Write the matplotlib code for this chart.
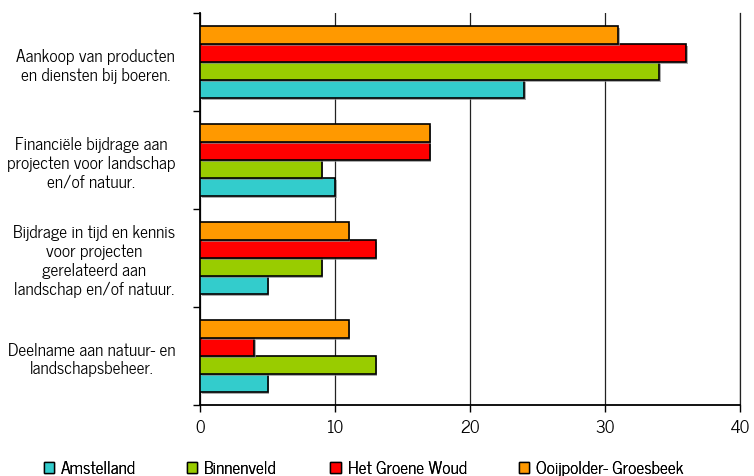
import numpy as np
import matplotlib.pyplot as plt
import matplotlib.patheffects as pe
from matplotlib.patches import Patch

plt.rcParams['font.family'] = ['News Cycle', 'Archivo Narrow', 'DejaVu Sans']

categories = ['Aankoop van producten\nen diensten bij boeren.',
              'Financiële bijdrage aan\nprojecten voor landschap\nen/of natuur.',
              'Bijdrage in tijd en kennis\nvoor projecten\ngerelateerd aan\nlandschap en/of natuur.',
              'Deelname aan natuur- en\nlandschapsbeheer.']
series = ['Amstelland', 'Binnenveld', 'Het Groene Woud', 'Ooijpolder- Groesbeek']
amstelland = [24, 10, 5, 5]
binnenveld = [34, 9, 9, 13]
groene_woud = [36, 17, 13, 4]
ooijpolder = [31, 17, 11, 11]
colors = ['#33CCCC', '#99CC00', '#FF0000', '#FF9900']

values = [amstelland, binnenveld, groene_woud, ooijpolder]

fig = plt.figure(figsize=(7.54, 4.77), dpi=100)
ax = fig.add_axes([0.2653, 0.1488, 0.7161, 0.8218])

y = np.arange(len(categories))[::-1].astype(float)
h = 0.184
shadow = [pe.SimplePatchShadow(offset=(1.2, -1.2), shadow_rgbFace='#888888', alpha=0.7), pe.Normal()]
for i, (vals, col) in enumerate(zip(values, colors)):
    bars = ax.barh(y + (i - 1.5) * h, vals, height=h, color=col,
                   edgecolor='black', linewidth=1.2, zorder=3)
    for b in bars:
        b.set_path_effects(shadow)

ax.set_xlim(0, 40)
ax.set_ylim(-0.5, 3.5)
ax.set_xticks([0, 10, 20, 30, 40])
ax.set_yticks([-0.5, 0.5, 1.5, 2.5, 3.5], minor=False)
ax.set_yticklabels([])
ax.set_yticks(y, minor=True)
ax.set_yticklabels(categories, minor=True, multialignment='center',
                   fontsize=12.5, linespacing=1.22)
ax.tick_params(axis='y', which='minor', length=0, pad=18)
ax.tick_params(axis='y', which='major', length=5, direction='out', width=1)
ax.tick_params(axis='x', length=5, direction='out', labelsize=12.5, pad=5, width=1)
ax.grid(axis='x', color='#222222', linewidth=0.9, zorder=0)
ax.spines['top'].set_visible(False)
for s in ['left', 'bottom']:
    ax.spines[s].set_linewidth(1.3)
ax.spines['right'].set_linewidth(0.9)
ax.spines['right'].set_color('#222222')

# one legend per entry so each can sit at its own x position
legend_x = [0.058, 0.248, 0.438, 0.688]
for c, name, lx in zip(colors, series, legend_x):
    leg = fig.legend([Patch(facecolor=c, edgecolor='black', linewidth=1.0)], [name],
                     loc='center left', bbox_to_anchor=(lx, 0.016), frameon=False,
                     fontsize=12.5, handlelength=0.6, handleheight=0.6,
                     handletextpad=0.4, borderaxespad=0, borderpad=0)
    fig.add_artist(leg)

fig.savefig('out.png', dpi=100)
